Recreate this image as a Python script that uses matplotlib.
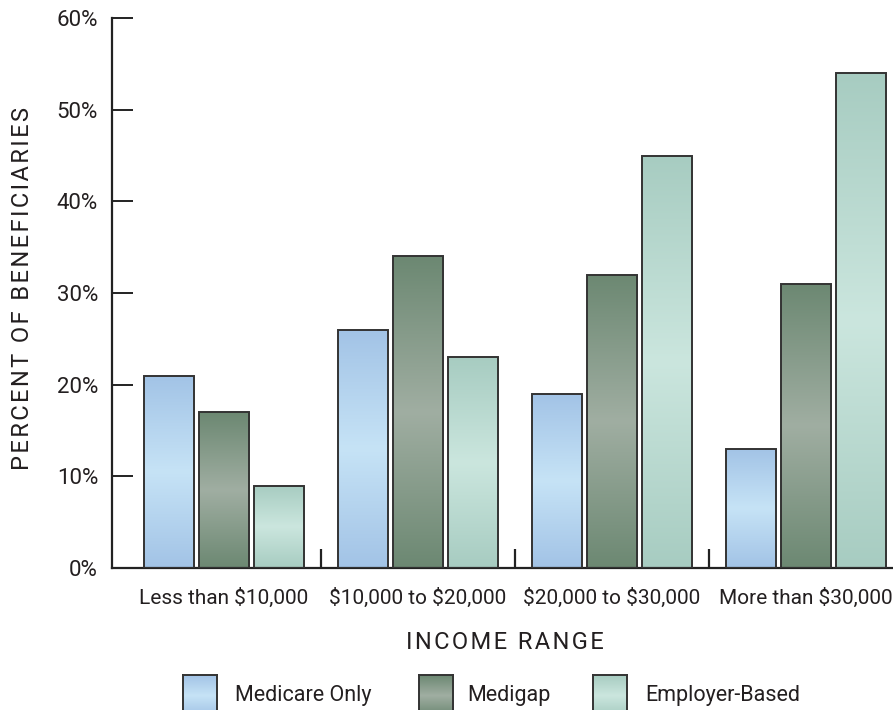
import numpy as np
import matplotlib.pyplot as plt
from matplotlib.colors import LinearSegmentedColormap

plt.rcParams['font.family'] = ['Roboto', 'DejaVu Sans']
plt.rcParams['text.parse_math'] = False

TEXT = "#231f20"

categories = ["Less than $10,000", "$10,000 to $20,000", "$20,000 to $30,000", "More than $30,000"]
series_names = ["Medicare Only", "Medigap", "Employer-Based"]
medicare_only = [21, 26, 19, 13]
medigap = [17, 34, 32, 31]
employer_based = [9, 23, 45, 54]
yticks = [0, 10, 20, 30, 40, 50, 60]

# (end colour, middle colour) for the vertical gradient of each series
grad_colors = [("#a2c3e6", "#c6e3f6"), ("#6c8872", "#a0aea2"), ("#a7ccc1", "#cbe6de")]


def spaced(s, sp="\u200a"):
    return sp.join(s)


def gradient_cmap(c_end, c_mid):
    return LinearSegmentedColormap.from_list("g", [c_end, c_mid, c_end])


grad = np.linspace(0, 1, 256).reshape(-1, 1)

fig = plt.figure(figsize=(8.93, 7.10), dpi=100)
ax = fig.add_axes([112 / 893, 142 / 710, 1 - 112 / 893, 550 / 710])

x = np.arange(len(categories))
offsets = [-0.284, 0.0, 0.284]
width = 0.258
all_vals = [medicare_only, medigap, employer_based]

for vals, off, (c_end, c_mid) in zip(all_vals, offsets, grad_colors):
    bars = ax.bar(x + off, vals, width=width, facecolor="none",
                  edgecolor="#333333", linewidth=1.4, zorder=3)
    cmap = gradient_cmap(c_end, c_mid)
    for b in bars:
        x0, y0 = b.get_x(), b.get_y()
        w, h = b.get_width(), b.get_height()
        im = ax.imshow(grad, cmap=cmap, aspect="auto", extent=[x0, x0 + w, y0, y0 + h],
                       origin="lower", zorder=2, interpolation="bilinear")
        im.set_clip_path(b)

ax.set_xlim(-0.577, 3.448)
ax.set_ylim(0, 60)

for s in ["top", "right"]:
    ax.spines[s].set_visible(False)
for s in ["left", "bottom"]:
    ax.spines[s].set_linewidth(1.6)
    ax.spines[s].set_color("#222222")

ax.set_yticks(yticks)
ax.set_yticklabels([f"{v}%" for v in yticks], fontsize=16, color=TEXT)
ax.tick_params(axis="y", direction="in", length=15, width=1.4, pad=10, color="#222222")

ax.set_xticks(x[:-1] + 0.5)
ax.set_xticklabels([])
ax.set_xticks(x, minor=True)
ax.set_xticklabels(categories, minor=True, fontsize=15, color=TEXT)
ax.tick_params(axis="x", which="major", direction="in", length=14, width=1.6, color="#222222")
ax.tick_params(axis="x", which="minor", length=0, pad=14)

fig.text(505 / 893, 1 - 649 / 710, spaced("INCOME RANGE"), fontsize=17, color=TEXT,
         ha="center", va="baseline")
fig.text(23 / 893, 1 - 289 / 710, spaced("PERCENT OF BENEFICIARIES"), fontsize=17, color=TEXT,
         ha="center", va="center", rotation=90, rotation_mode="anchor")

# legend drawn by hand along the bottom
leg_patch_x = [183, 419, 593]
leg_text_x = [235, 467, 645]
for name, px, tx, (c_end, c_mid) in zip(series_names, leg_patch_x, leg_text_x, grad_colors):
    lax = fig.add_axes([px / 893, -6 / 710, 34 / 893, 41 / 710])
    lax.imshow(grad, cmap=gradient_cmap(c_end, c_mid), aspect="auto", origin="lower",
               extent=[0, 1, 0, 1])
    lax.set_xlim(0, 1)
    lax.set_ylim(0, 1)
    lax.set_xticks([])
    lax.set_yticks([])
    for sp in lax.spines.values():
        sp.set_linewidth(1.4)
        sp.set_color("#333333")
    fig.text(tx / 893, 1 - 695 / 710, name, fontsize=15.5, color=TEXT, va="center", ha="left")

fig.savefig("out.png", dpi=100)
